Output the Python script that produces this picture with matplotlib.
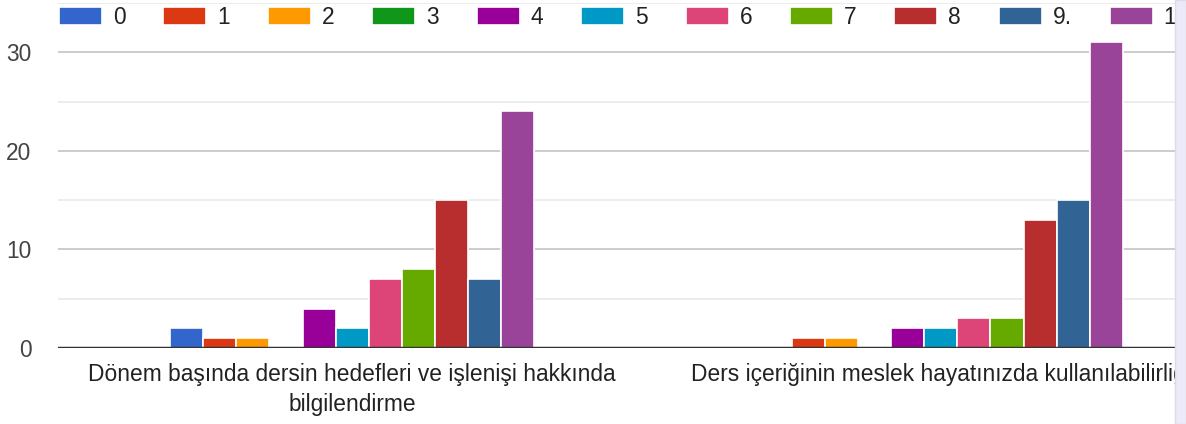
import numpy as np
import matplotlib
matplotlib.use("Agg")
import matplotlib.pyplot as plt
from matplotlib.patches import Rectangle

plt.rcParams['font.family'] = ['Liberation Sans', 'DejaVu Sans']

# Data
questions = ['Dönem başında dersin hedefleri ve işlenişi hakkında\nbilgilendirme',
             'Ders içeriğinin meslek hayatınızda kullanılabilirliği']
series_labels = ['0', '1', '2', '3', '4', '5', '6', '7', '8', '9.', '1']
q1_counts = [2, 1, 1, 0, 4, 2, 7, 8, 15, 7, 24]
q2_counts = [0, 1, 1, 0, 2, 2, 3, 3, 13, 15, 31]
colors = ['#3366cc', '#dc3912', '#ff9900', '#109618', '#990099', '#0099c6',
          '#dd4477', '#66aa00', '#b82e2e', '#316395', '#994499']

W, H = 1186, 424
fig = plt.figure(figsize=(W / 100, H / 100), dpi=100)
# axes extends past the right edge (chart is cropped in the screenshot)
ax = fig.add_axes([58 / W, 76 / H, 1177 / W, 345 / H])

x = np.arange(len(questions))
bar_w = 0.0563
n = len(series_labels)
for i, lab in enumerate(series_labels):
    vals = [q1_counts[i], q2_counts[i]]
    ax.bar(x + (i - (n - 1) / 2) * bar_w, vals, width=bar_w, color=colors[i],
           edgecolor='white', linewidth=1.2, label=lab, zorder=3)

ax.set_xlim(-0.5, 1.5)
ax.set_ylim(0, 35)
ax.set_yticks([0, 10, 20, 30])
ax.set_yticks([5, 15, 25, 35], minor=True)
ax.grid(axis='y', which='major', color='#c8c8c8', linewidth=1.3, zorder=0)
ax.grid(axis='y', which='minor', color='#ebebeb', linewidth=1.3, zorder=0)
ax.axhline(0, color='#333333', linewidth=2.5, zorder=4)
for s in ax.spines.values():
    s.set_visible(False)
ax.tick_params(axis='y', which='both', length=0, pad=19, labelsize=16.4, labelcolor='#444444')
ax.tick_params(axis='x', length=0, pad=11, labelsize=16.4, labelcolor='#222222')
ax.set_xticks(x)
ax.set_xticklabels(questions, linespacing=1.35)

fig.legend(loc='upper left', bbox_to_anchor=(59 / W, 1 - 6 / H), ncol=n,
           frameon=False, fontsize=16.4, handlelength=1.89, handleheight=0.88,
           handletextpad=0.48, columnspacing=1.66, borderpad=0, borderaxespad=0,
           labelcolor='#222222')

# scrollbar strip on the right
fig.patches.append(Rectangle((1175 / W, 0), 11 / W, 1, transform=fig.transFigure,
                             facecolor='#eceaf6', edgecolor='#dddbe8', linewidth=1, zorder=10))

fig.savefig('out.png', dpi=100, facecolor='white')
